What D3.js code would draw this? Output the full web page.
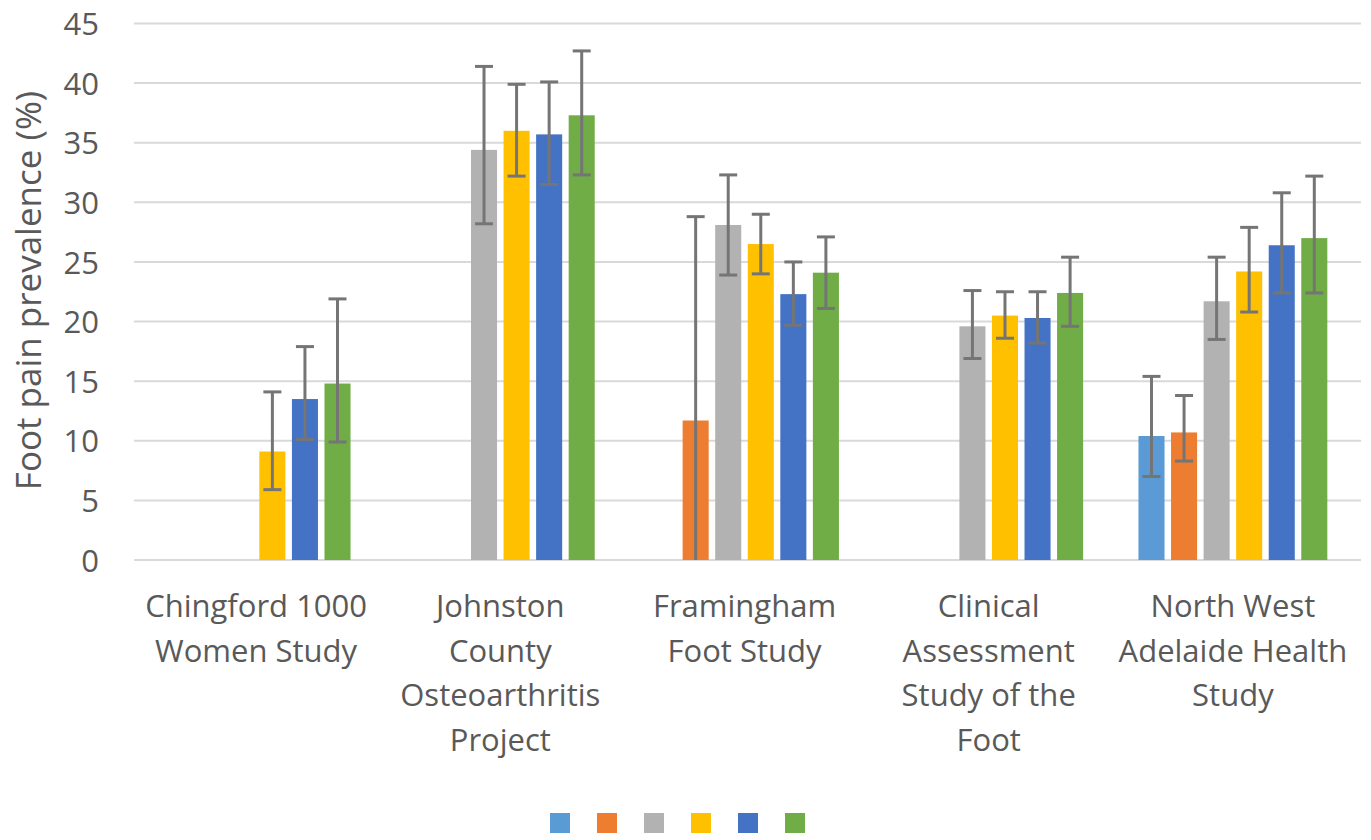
<!DOCTYPE html>
<html>
<head>
<meta charset="utf-8">
<script src="https://cdn.jsdelivr.net/npm/d3@7"></script>
<style>
  body { margin: 0; background: #fff; }
  svg text { font-family: "Open Sans", sans-serif; fill: #595959; }
</style>
</head>
<body>
<svg id="chart" width="1371" height="840"></svg>
<script>
// study groups (x axis), label lines as wrapped in the original
var categories = ["Chingford", "Johnston", "Framingham", "Clinical", "NWAHS"];
var categoryLabels = [
    ["Chingford 1000", "Women Study"],
    ["Johnston", "County", "Osteoarthritis", "Project"],
    ["Framingham", "Foot Study"],
    ["Clinical", "Assessment", "Study of the", "Foot"],
    ["North West", "Adelaide Health", "Study"]
];

// six unnamed series (legend shows colour keys only)
var seriesKeys = ["s1", "s2", "s3", "s4", "s5", "s6"];
var seriesColors = ["#5B9BD5", "#ED7D31", "#B2B2B2", "#FFC000", "#4472C4", "#70AD47"];

// prevalence (%) per series, one value per category (null = no bar)
var s1Values = [null, null, null, null, 10.4];
var s2Values = [null, null, 11.7, null, 10.7];
var s3Values = [null, 34.4, 28.1, 19.6, 21.7];
var s4Values = [9.1, 36.0, 26.5, 20.5, 24.2];
var s5Values = [13.5, 35.7, 22.3, 20.3, 26.4];
var s6Values = [14.8, 37.3, 24.1, 22.4, 27.0];

// 95% CI lower / upper bounds
var s1Low = [null, null, null, null, 7.0];
var s1High = [null, null, null, null, 15.4];
var s2Low = [null, null, 0, null, 8.3];
var s2High = [null, null, 28.8, null, 13.8];
var s3Low = [null, 28.2, 23.9, 16.9, 18.5];
var s3High = [null, 41.4, 32.3, 22.6, 25.4];
var s4Low = [5.9, 32.2, 24.0, 18.6, 20.8];
var s4High = [14.1, 39.9, 29.0, 22.5, 27.9];
var s5Low = [10.1, 31.5, 19.7, 18.2, 22.4];
var s5High = [17.9, 40.1, 25.0, 22.5, 30.8];
var s6Low = [9.9, 32.3, 21.1, 19.6, 22.4];
var s6High = [21.9, 42.7, 27.1, 25.4, 32.2];

var yTicks = [0, 5, 10, 15, 20, 25, 30, 35, 40, 45];

var allValues = [s1Values, s2Values, s3Values, s4Values, s5Values, s6Values];
var allLow = [s1Low, s2Low, s3Low, s4Low, s5Low, s6Low];
var allHigh = [s1High, s2High, s3High, s4High, s5High, s6High];

var svg = d3.select("#chart"),
    margin = {top: 23.5, right: 16, bottom: 280, left: 134},
    width = +svg.attr("width") - margin.left - margin.right,
    height = +svg.attr("height") - margin.top - margin.bottom;

var x0 = d3.scaleBand().domain(categories).range([0, width]);
var x1 = d3.scaleBand().domain(seriesKeys)
    .range([x0.bandwidth() * 0.1, x0.bandwidth() * 0.9])
    .paddingInner(0.2).paddingOuter(0.1);
var y = d3.scaleLinear().domain([0, 45]).range([height, 0]);
var color = d3.scaleOrdinal().domain(seriesKeys).range(seriesColors);

var g = svg.append("g")
    .attr("transform", "translate(" + margin.left + "," + margin.top + ")");

// gridlines
g.append("g")
    .selectAll("line")
    .data(yTicks)
    .enter().append("line")
    .attr("x1", 0)
    .attr("x2", width + 6)
    .attr("y1", function (d) { return y(d); })
    .attr("y2", function (d) { return y(d); })
    .attr("stroke", "#D9D9D9")
    .attr("stroke-width", 2);

// y axis labels
var yAxis = g.append("g")
    .attr("transform", "translate(-35,0)")
    .call(d3.axisLeft(y).tickValues(yTicks).tickSize(0).tickPadding(0));
yAxis.select(".domain").remove();
yAxis.selectAll("text")
    .style("font-size", "31px")
    .attr("dy", "0.36em");

// flatten into rows
var rows = [];
categories.forEach(function (c, i) {
    seriesKeys.forEach(function (k, j) {
        if (allValues[j][i] != null) {
            rows.push({cat: c, key: k, value: allValues[j][i], low: allLow[j][i], high: allHigh[j][i]});
        }
    });
});

var groups = g.selectAll(".bar")
    .data(rows)
    .enter().append("g")
    .attr("class", "bar")
    .attr("transform", function (d) { return "translate(" + (x0(d.cat) + x1(d.key)) + ",0)"; });

groups.append("rect")
    .attr("x", 0)
    .attr("y", function (d) { return y(d.value); })
    .attr("width", x1.bandwidth())
    .attr("height", function (d) { return height - y(d.value); })
    .attr("fill", function (d) { return color(d.key); });

// error bars
var mid = x1.bandwidth() / 2, cap = 9;
groups.append("line")
    .attr("x1", mid).attr("x2", mid)
    .attr("y1", function (d) { return y(d.low); })
    .attr("y2", function (d) { return y(d.high); })
    .attr("stroke", "#757575").attr("stroke-width", 3);
groups.append("line")
    .attr("x1", mid - cap).attr("x2", mid + cap)
    .attr("y1", function (d) { return y(d.high); })
    .attr("y2", function (d) { return y(d.high); })
    .attr("stroke", "#757575").attr("stroke-width", 3);
groups.filter(function (d) { return d.low > 0; })
    .append("line")
    .attr("x1", mid - cap).attr("x2", mid + cap)
    .attr("y1", function (d) { return y(d.low); })
    .attr("y2", function (d) { return y(d.low); })
    .attr("stroke", "#757575").attr("stroke-width", 3);

// category labels
var xLabels = g.append("g").selectAll("text")
    .data(categories)
    .enter().append("text")
    .attr("x", function (d) { return x0(d) + x0.bandwidth() / 2; })
    .attr("y", height + 57)
    .style("font-size", "31px")
    .style("text-anchor", "middle");
xLabels.selectAll("tspan")
    .data(function (d, i) { return categoryLabels[i]; })
    .enter().append("tspan")
    .attr("x", function () { return d3.select(this.parentNode).attr("x"); })
    .attr("dy", function (d, i) { return i === 0 ? 0 : 44.7; })
    .text(function (d) { return d; });

// y axis title
svg.append("text")
    .attr("transform", "translate(41," + 290.5 + ") rotate(-90)")
    .style("text-anchor", "middle")
    .style("font-size", "35px")
    .text("Foot pain prevalence (%)");

// legend: colour keys only
var legend = svg.append("g")
    .attr("transform", "translate(550,813)");
legend.selectAll("rect")
    .data(seriesKeys)
    .enter().append("rect")
    .attr("x", function (d, i) { return i * 47; })
    .attr("y", 0)
    .attr("width", 20)
    .attr("height", 20)
    .attr("fill", function (d) { return color(d); });
</script>
</body>
</html>
